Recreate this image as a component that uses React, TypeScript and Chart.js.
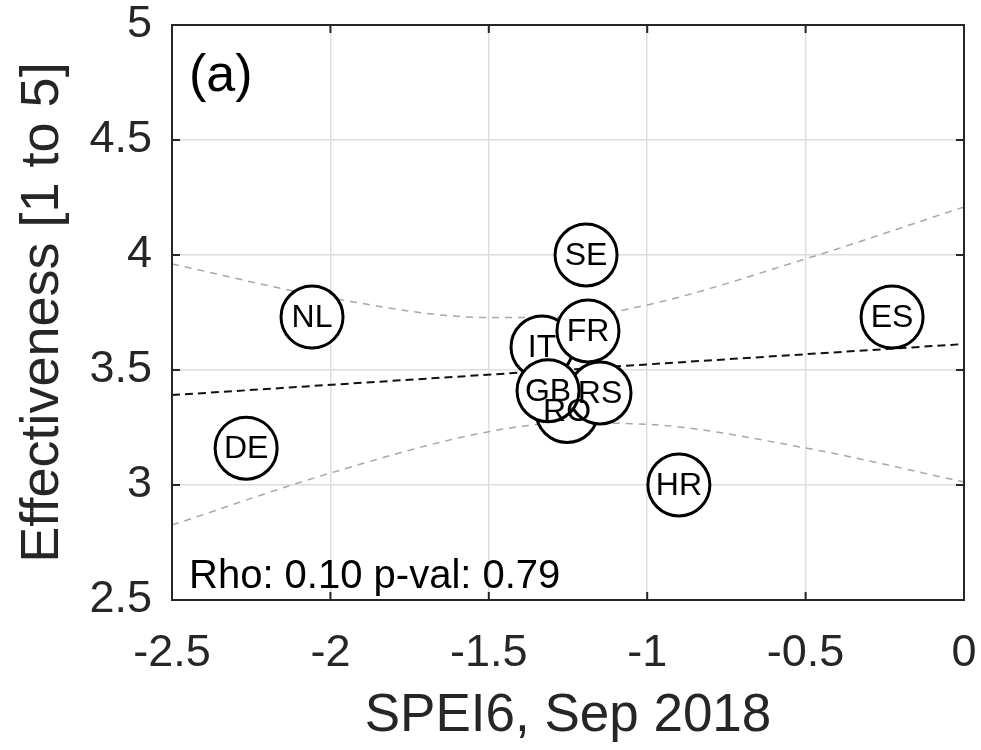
import React, { useEffect, useRef } from "react";
import { Chart, registerables } from "chart.js";

Chart.register(...registerables);

const countries = ["IT", "RO", "RS", "GB", "FR", "SE", "NL", "DE", "HR", "ES"];
const speiValues = [-1.332, -1.253, -1.149, -1.313, -1.187, -1.193, -2.058, -2.266, -0.9, -0.227];
const effectiveness = [3.6, 3.32, 3.4, 3.41, 3.67, 4.0, 3.73, 3.16, 3.0, 3.73];

const fitX = [-2.5, 0];
const fitY = [3.391, 3.613];

const bandX = [-2.5, -2, -1.5, -1.25, -1, -0.5, 0];
const bandUpper = [3.961, 3.813, 3.728, 3.73, 3.783, 3.983, 4.209];
const bandLower = [2.826, 3.052, 3.232, 3.27, 3.264, 3.161, 3.013];

const xTicks = [-2.5, -2, -1.5, -1, -0.5, 0];
const yTicks = [2.5, 3, 3.5, 4, 4.5, 5];

const panelLabel = "(a)";
const statsText = "Rho: 0.10 p-val: 0.79";
const xTitle = "SPEI6, Sep 2018";
const yTitle = "Effectiveness [1 to 5]";

const FONT = "'Liberation Sans', Arial, Helvetica, sans-serif";
const TEXT = "#262626";

export default function App() {
  const ref = useRef<HTMLCanvasElement | null>(null);
  useEffect(() => {
    const canvas = ref.current!;
    const pts = speiValues.map((x, i) => ({ x, y: effectiveness[i] }));
    const fit = fitX.map((x, i) => ({ x, y: fitY[i] }));
    const up = bandX.map((x, i) => ({ x, y: bandUpper[i] }));
    const lo = bandX.map((x, i) => ({ x, y: bandLower[i] }));

    const overlay = {
      id: "overlay",
      afterDatasetsDraw(chart: any) {
        const ctx = chart.ctx as CanvasRenderingContext2D;
        const meta = chart.getDatasetMeta(0);
        ctx.save();
        ctx.fillStyle = "#000";
        ctx.font = `32px ${FONT}`;
        ctx.textAlign = "center";
        ctx.textBaseline = "middle";
        meta.data.forEach((el: any, i: number) => {
          ctx.fillText(countries[i], el.x, el.y + 1);
        });
        ctx.restore();
      },
      afterDraw(chart: any) {
        const ctx = chart.ctx as CanvasRenderingContext2D;
        const a = chart.chartArea;
        const xs = chart.scales.x;
        const ys = chart.scales.y;
        ctx.save();
        ctx.strokeStyle = TEXT;
        ctx.lineWidth = 2;
        ctx.strokeRect(a.left, a.top, a.right - a.left, a.bottom - a.top);
        const tl = 8;
        ctx.beginPath();
        xTicks.forEach((v) => {
          const px = xs.getPixelForValue(v);
          ctx.moveTo(px, a.bottom);
          ctx.lineTo(px, a.bottom - tl);
          ctx.moveTo(px, a.top);
          ctx.lineTo(px, a.top + tl);
        });
        yTicks.forEach((v) => {
          const py = ys.getPixelForValue(v);
          ctx.moveTo(a.left, py);
          ctx.lineTo(a.left + tl, py);
          ctx.moveTo(a.right, py);
          ctx.lineTo(a.right - tl, py);
        });
        ctx.stroke();
        ctx.fillStyle = "#000";
        ctx.textAlign = "left";
        ctx.textBaseline = "middle";
        ctx.font = `52px ${FONT}`;
        ctx.fillText(panelLabel, a.left + 17, a.top + 52);
        ctx.font = `40px ${FONT}`;
        ctx.textBaseline = "alphabetic";
        ctx.fillText(statsText, a.left + 17, a.bottom - 12);
        ctx.restore();
      },
    };

    const chart = new Chart(canvas, {
      type: "scatter",
      data: {
        datasets: [
          {
            data: pts,
            order: 0,
            pointRadius: 31,
            pointHoverRadius: 31,
            pointBackgroundColor: "#ffffff",
            pointBorderColor: "#000000",
            pointBorderWidth: 3,
            showLine: false,
          },
          {
            type: "line",
            data: fit,
            order: 1,
            borderColor: "#111111",
            borderWidth: 2,
            borderDash: [8, 5],
            pointRadius: 0,
            fill: false,
          },
          {
            type: "line",
            data: up,
            order: 2,
            borderColor: "#a8a8a8",
            borderWidth: 1.5,
            borderDash: [7, 6],
            pointRadius: 0,
            cubicInterpolationMode: "monotone",
            fill: false,
          },
          {
            type: "line",
            data: lo,
            order: 3,
            borderColor: "#a8a8a8",
            borderWidth: 1.5,
            borderDash: [7, 6],
            pointRadius: 0,
            cubicInterpolationMode: "monotone",
            fill: false,
          },
        ],
      } as any,
      options: {
        animation: false,
        responsive: false,
        devicePixelRatio: 1,
        layout: { autoPadding: false, padding: { top: 25, right: 17, left: 0, bottom: 0 } },
        plugins: { legend: { display: false }, tooltip: { enabled: false } },
        scales: {
          x: {
            type: "linear",
            min: -2.5,
            max: 0,
            afterBuildTicks: (s: any) => {
              s.ticks = xTicks.map((v) => ({ value: v }));
            },
            afterFit: (s: any) => {
              s.height = 150;
              s.paddingLeft = 0;
              s.paddingRight = 0;
            },
            grid: { color: "#dedede", lineWidth: 1.5, drawTicks: false },
            border: { display: false },
            ticks: {
              color: TEXT,
              padding: 27,
              maxRotation: 0,
              font: { size: 45, family: FONT },
              callback: (v: any) => String(v),
            },
            title: {
              display: true,
              text: xTitle,
              color: TEXT,
              font: { size: 53, family: FONT },
              padding: { top: 0, bottom: 2 },
            },
          },
          y: {
            type: "linear",
            min: 2.5,
            max: 5,
            afterBuildTicks: (s: any) => {
              s.ticks = yTicks.map((v) => ({ value: v }));
            },
            afterFit: (s: any) => {
              s.width = 172;
              s.paddingTop = 0;
              s.paddingBottom = 0;
            },
            grid: { color: "#dedede", lineWidth: 1.5, drawTicks: false },
            border: { display: false },
            ticks: {
              color: TEXT,
              padding: 20,
              font: { size: 45, family: FONT },
              callback: (v: any) => String(v),
            },
            title: {
              display: true,
              text: yTitle,
              color: TEXT,
              font: { size: 54, family: FONT },
              padding: { top: 11, bottom: 0 },
            },
          },
        },
      },
      plugins: [overlay],
    });
    return () => chart.destroy();
  }, []);

  return (
    <div style={{ position: "fixed", left: 0, top: 0, width: 981, height: 750, background: "#fff" }}>
      <canvas ref={ref} width={981} height={750} style={{ display: "block" }} />
    </div>
  );
}
